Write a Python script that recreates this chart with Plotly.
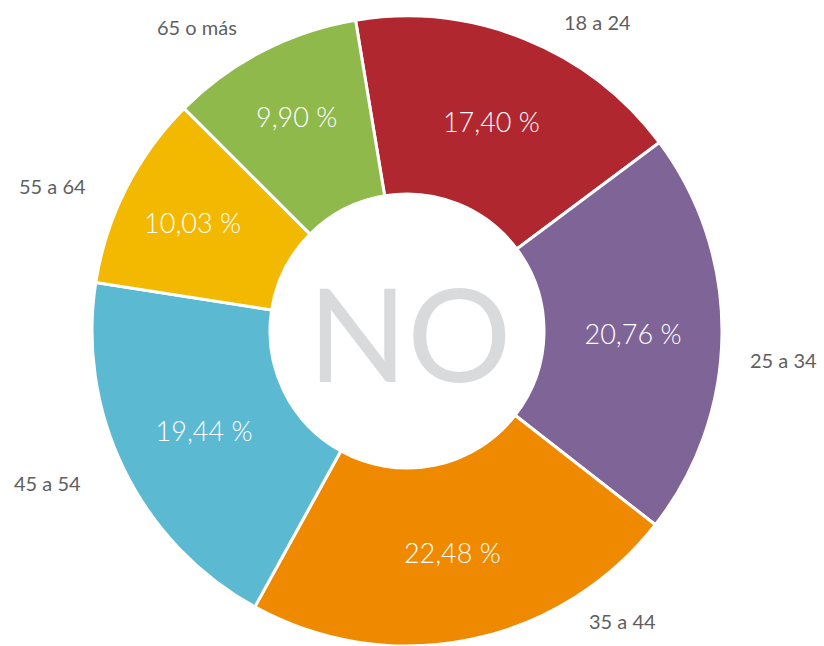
import plotly.graph_objects as go

# Age groups and their share (%)
age_groups = ["18 a 24", "25 a 34", "35 a 44", "45 a 54", "55 a 64", "65 o más"]
shares = [17.40, 20.76, 22.48, 19.44, 10.03, 9.90]
slice_colors = ["#b1272f", "#7f6497", "#ef8900", "#5bb9d2", "#f3b900", "#8fb94b"]

# Where each age-group caption sits around the ring (paper coords)
caption_xy = [
    (597, 22), (783, 360), (622, 621), (47, 483), (52, 186), (197, 27),
]

W, H = 824, 646
FONT = "Lato"

fig = go.Figure(
    go.Pie(
        labels=age_groups,
        values=shares,
        sort=False,
        direction="clockwise",
        rotation=-9.4,
        hole=0.435,
        marker=dict(colors=slice_colors, line=dict(color="white", width=3)),
        texttemplate="%{value:.2f} %",
        textposition="inside",
        insidetextorientation="horizontal",
        insidetextfont=dict(family=FONT, size=27, color="white", weight=300),
        hoverinfo="skip",
        showlegend=False,
        domain=dict(x=[92 / W, 722 / W], y=[0, 1 - 16 / H]),
    )
)

annotations = [
    dict(
        text="NO", x=409 / W, y=1 - 332 / H, xref="paper", yref="paper",
        showarrow=False, xanchor="center", yanchor="middle",
        font=dict(family=FONT, size=130, color="#d9dadc", weight=400),
    )
]
for name, (px, py) in zip(age_groups, caption_xy):
    annotations.append(
        dict(
            text=name, x=px / W, y=1 - py / H, xref="paper", yref="paper",
            showarrow=False, xanchor="center", yanchor="middle",
            font=dict(family=FONT, size=20, color="#5f5f5f", weight=400),
        )
    )

fig.update_layout(
    width=W,
    height=H,
    margin=dict(l=0, r=0, t=0, b=0),
    paper_bgcolor="white",
    plot_bgcolor="white",
    separators=",.",
    annotations=annotations,
)

fig.write_html("out.html")
